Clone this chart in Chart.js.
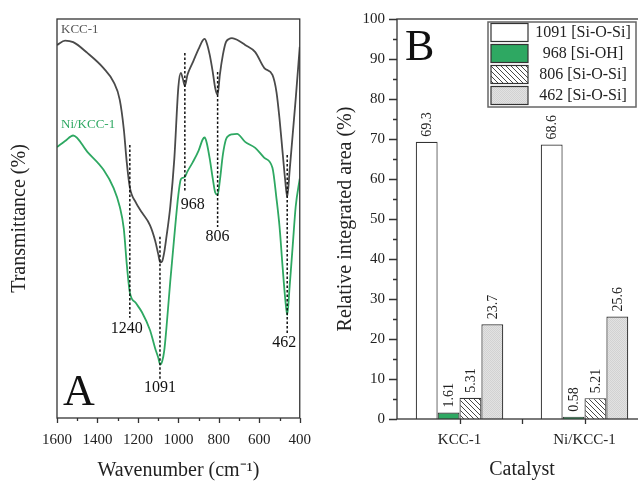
<!DOCTYPE html>
<html lang="en">
<head>
<meta charset="UTF-8">
<title>FTIR spectra of KCC-1 and Ni/KCC-1</title>
<script src="https://cdn.jsdelivr.net/npm/chart.js"></script>
<style>
  html, body { margin: 0; padding: 0; background: #fff; overflow: hidden; }
  #wrap { position: relative; width: 638px; height: 483px; overflow: hidden; }
  #chartA { position: absolute; left: 0; top: 0; }
  #chartB { position: absolute; left: 330px; top: 0; }
</style>
</head>
<body>
<div id="wrap">
  <canvas id="chartA" width="320" height="483"></canvas>
  <canvas id="chartB" width="330" height="483"></canvas>
</div>
<script>
// panel A: FTIR spectra (transmittance in arbitrary units)
const wavenumbers = [1600, 1560, 1520, 1450, 1370, 1320, 1290, 1270, 1255, 1240, 1210, 1180, 1140, 1115, 1100,
  1090, 1080, 1070, 1060, 1040, 1020, 1000, 988, 978, 968, 955, 930, 900, 880, 870, 860, 845, 830, 818, 806,
  795, 780, 765, 750, 735, 710, 670, 620, 575, 535, 515, 500, 485, 472, 462, 450, 435, 420, 400];
const kccSpectrum = [93.5, 94.6, 94.2, 91.5, 87.7, 84.2, 79.8, 72.5, 64, 57.8, 54, 51.5, 48.3, 44.5, 41.2,
  39, 39.3, 41.5, 45, 53, 65, 83, 86.5, 85, 83.2, 86, 89, 92.5, 94.6, 95, 94, 91, 86.7, 82.7, 81,
  86, 91, 94.2, 95, 95.2, 94.8, 93.5, 91.7, 87.7, 86, 81.7, 75, 66.7, 59.6, 55.4, 62, 71, 80, 93];
const niKccSpectrum = [67.9, 69.4, 70.8, 66.7, 62.2, 57.6, 53, 47.5, 38.5, 31.5, 28.8, 26.5, 22, 17.5, 15.2,
  13.4, 14.2, 16.8, 22, 34.3, 45.6, 56, 59.8, 60.2, 60.4, 61.8, 64, 67, 69.8, 70.3, 69, 65, 60, 56.5, 55.9,
  59.5, 66, 69.8, 70.8, 71.1, 71.2, 69.2, 67.7, 65.2, 62.7, 55, 48, 38, 30, 25.8, 33, 43, 53, 60];
const peakWavenumbers = [1240, 1091, 968, 806, 462];

// panel B: relative integrated area (%)
const catalysts = ['KCC-1', 'Ni/KCC-1'];
const bandNames = ['1091 [Si-O-Si]', '968 [Si-OH]', '806 [Si-O-Si]', '462 [Si-O-Si]'];
const area1091 = [69.3, 68.6];
const area968 = [1.61, 0.58];
const area806 = [5.31, 5.21];
const area462 = [23.7, 25.6];

const SERIF = '"Liberation Serif", "Times New Roman", serif';
Chart.defaults.font.family = SERIF;
Chart.defaults.color = '#222';

// where each dashed marker starts/ends and where its label sits (y in axis units, dx in px)
const peakMarks = [
  { top: 68.4, bottom: 25.1, labelY: 22.3, dx: -3 },
  { top: 45.4, bottom: 9.5, labelY: 7.6, dx: 0 },
  { top: 91.5, bottom: 56.6, labelY: 53.4, dx: 8 },
  { top: 86.7, bottom: 47.9, labelY: 45.4, dx: 0 },
  { top: 65.9, bottom: 20.8, labelY: 18.8, dx: -3 }
];

const spectraDecor = {
  id: 'spectraDecor',
  afterDraw(chart) {
    const { ctx, chartArea: a, scales: { x, y } } = chart;
    ctx.save();
    // frame
    ctx.strokeStyle = '#333';
    ctx.lineWidth = 1.3;
    ctx.strokeRect(a.left, a.top, a.right - a.left, a.bottom - a.top);
    // x ticks, major every 200, minor every 100
    ctx.beginPath();
    for (let w = 400; w <= 1600; w += 100) {
      const px = Math.round(x.getPixelForValue(w)) + 0.5;
      ctx.moveTo(px, a.bottom);
      ctx.lineTo(px, a.bottom + (w % 200 === 0 ? 5 : 3));
    }
    ctx.stroke();
    // dashed peak markers
    ctx.strokeStyle = '#111';
    ctx.lineWidth = 1.5;
    ctx.setLineDash([2.5, 2]);
    peakWavenumbers.forEach((w, i) => {
      const px = x.getPixelForValue(w);
      ctx.beginPath();
      ctx.moveTo(px, y.getPixelForValue(peakMarks[i].top));
      ctx.lineTo(px, y.getPixelForValue(peakMarks[i].bottom));
      ctx.stroke();
    });
    ctx.setLineDash([]);
    ctx.fillStyle = '#111';
    ctx.font = '16px ' + SERIF;
    ctx.textAlign = 'center';
    ctx.textBaseline = 'middle';
    peakWavenumbers.forEach((w, i) => {
      ctx.fillText(String(w), x.getPixelForValue(w) + peakMarks[i].dx, y.getPixelForValue(peakMarks[i].labelY));
    });
    // series names
    ctx.textAlign = 'left';
    ctx.textBaseline = 'alphabetic';
    ctx.font = '13px ' + SERIF;
    ctx.fillStyle = '#555';
    ctx.fillText('KCC-1', a.left + 4, y.getPixelForValue(96.5));
    ctx.fillStyle = '#2ea862';
    ctx.fillText('Ni/KCC-1', a.left + 4, y.getPixelForValue(72.7));
    // panel letter
    ctx.fillStyle = '#111';
    ctx.font = '44px ' + SERIF;
    ctx.fillText('A', a.left + 6, a.bottom - 13);
    ctx.restore();
  }
};

new Chart(document.getElementById('chartA'), {
  type: 'line',
  data: {
    datasets: [
      {
        label: 'KCC-1',
        data: wavenumbers.map((w, i) => ({ x: w, y: kccSpectrum[i] })),
        borderColor: '#4a4a4a',
        borderWidth: 1.8,
        pointRadius: 0,
        cubicInterpolationMode: 'monotone'
      },
      {
        label: 'Ni/KCC-1',
        data: wavenumbers.map((w, i) => ({ x: w, y: niKccSpectrum[i] })),
        borderColor: '#2ea862',
        borderWidth: 1.8,
        pointRadius: 0,
        cubicInterpolationMode: 'monotone'
      }
    ]
  },
  options: {
    responsive: false,
    animation: false,
    layout: { padding: { top: 19, right: 14, left: 0, bottom: 0 } },
    plugins: { legend: { display: false }, tooltip: { enabled: false } },
    scales: {
      x: {
        type: 'linear',
        reverse: true,
        min: 400,
        max: 1600,
        grid: { display: false, tickLength: 4 },
        border: { display: false },
        ticks: { stepSize: 200, font: { size: 15 }, padding: 9, maxRotation: 0, callback: v => String(v) },
        title: { display: true, text: 'Wavenumber (cm\u207B\u00B9)', font: { size: 20 }, padding: { top: 0, bottom: 0 } },
        afterFit: s => { s.height = 65; }
      },
      y: {
        min: 0,
        max: 100,
        grid: { display: false },
        border: { display: false },
        ticks: { display: false },
        title: { display: true, text: 'Transmittance (%)', font: { size: 20 }, padding: { top: 8, bottom: 0 } },
        afterFit: s => { s.width = 57; }
      }
    }
  },
  plugins: [spectraDecor]
});

// panel B
const canvasB = document.getElementById('chartB');
const ctxB = canvasB.getContext('2d');

function hatchPattern() {
  const c = document.createElement('canvas');
  c.width = 5; c.height = 5;
  const g = c.getContext('2d');
  g.fillStyle = '#fff';
  g.fillRect(0, 0, 5, 5);
  g.strokeStyle = '#333';
  g.lineWidth = 0.9;
  g.beginPath();
  g.moveTo(-1, -1); g.lineTo(6, 6);
  g.moveTo(4, -1); g.lineTo(6, 1);
  g.moveTo(-1, 4); g.lineTo(1, 6);
  g.stroke();
  return ctxB.createPattern(c, 'repeat');
}

function dotPattern() {
  const c = document.createElement('canvas');
  c.width = 2; c.height = 2;
  const g = c.getContext('2d');
  g.fillStyle = '#e2e2e2';
  g.fillRect(0, 0, 2, 2);
  g.fillStyle = '#d2d2d2';
  g.fillRect(0, 0, 1, 1);
  g.fillRect(1, 1, 1, 1);
  return ctxB.createPattern(c, 'repeat');
}

const barFills = ['#ffffff', '#2ea862', hatchPattern(), dotPattern()];

const barDecor = {
  id: 'barDecor',
  afterDraw(chart) {
    const { ctx, chartArea: a, scales: { x, y } } = chart;
    ctx.save();
    ctx.strokeStyle = '#333';
    ctx.lineWidth = 1.3;
    ctx.strokeRect(a.left, a.top, a.right - a.left, a.bottom - a.top);
    ctx.beginPath();
    for (let v = 0; v <= 100; v += 5) {
      const py = Math.round(y.getPixelForValue(v)) + 0.5;
      ctx.moveTo(a.left, py);
      ctx.lineTo(a.left - (v % 10 === 0 ? 8 : 4), py);
    }
    const c0 = x.getPixelForValue(0), c1 = x.getPixelForValue(1);
    [c0, (c0 + c1) / 2, c1].forEach(px => {
      ctx.moveTo(Math.round(px) + 0.5, a.bottom);
      ctx.lineTo(Math.round(px) + 0.5, a.bottom + 5);
    });
    ctx.stroke();

    // value labels, rotated
    ctx.fillStyle = '#222';
    ctx.font = '14px ' + SERIF;
    ctx.textAlign = 'left';
    ctx.textBaseline = 'middle';
    chart.data.datasets.forEach((ds, di) => {
      chart.getDatasetMeta(di).data.forEach((bar, i) => {
        ctx.save();
        ctx.translate(bar.x, bar.y - 5);
        ctx.rotate(-Math.PI / 2);
        ctx.fillText(String(ds.data[i]), 0, 1);
        ctx.restore();
      });
    });

    // legend box
    const lx = 158, ly = 22, lw = 148, lh = 85;
    ctx.fillStyle = '#fff';
    ctx.fillRect(lx, ly, lw, lh);
    ctx.strokeStyle = '#666';
    ctx.lineWidth = 1.5;
    ctx.strokeRect(lx, ly, lw, lh);
    ctx.font = '16px ' + SERIF;
    ctx.textAlign = 'center';
    chart.data.datasets.forEach((ds, i) => {
      const top = ly + 1.5 + i * 21;
      ctx.fillStyle = ds.backgroundColor;
      ctx.fillRect(lx + 3, top, 37, 18);
      ctx.strokeStyle = '#333';
      ctx.lineWidth = 1.2;
      ctx.strokeRect(lx + 3, top, 37, 18);
      ctx.fillStyle = '#222';
      ctx.fillText(ds.label, lx + 95, top + 9.5);
    });

    ctx.fillStyle = '#111';
    ctx.font = '44px ' + SERIF;
    ctx.textAlign = 'left';
    ctx.textBaseline = 'alphabetic';
    ctx.fillText('B', a.left + 8, a.top + 41);
    ctx.restore();
  }
};

const bandValues = [area1091, area968, area806, area462];

new Chart(canvasB, {
  type: 'bar',
  data: {
    labels: catalysts,
    datasets: bandNames.map((name, i) => ({
      label: name,
      data: bandValues[i],
      backgroundColor: barFills[i],
      borderColor: '#333',
      borderWidth: 1.2,
      borderSkipped: 'bottom',
      categoryPercentage: 0.7,
      barPercentage: 1.0
    }))
  },
  options: {
    responsive: false,
    animation: false,
    layout: { padding: { top: 19, right: 13, left: 0, bottom: 0 } },
    plugins: { legend: { display: false }, tooltip: { enabled: false } },
    scales: {
      x: {
        grid: { display: false, tickLength: 4 },
        border: { display: false },
        ticks: { font: { size: 15 }, padding: 8, maxRotation: 0 },
        title: { display: true, text: 'Catalyst', font: { size: 20 }, padding: { top: 0, bottom: 1 } },
        afterFit: s => { s.height = 64; }
      },
      y: {
        min: 0,
        max: 100,
        grid: { display: false, tickLength: 8 },
        border: { display: false },
        ticks: { stepSize: 10, font: { size: 15 }, padding: 4 },
        title: { display: true, text: 'Relative integrated area (%)', font: { size: 20 }, padding: { top: 4, bottom: 0 } },
        afterFit: s => { s.width = 67; }
      }
    }
  },
  plugins: [barDecor]
});
</script>
</body>
</html>
